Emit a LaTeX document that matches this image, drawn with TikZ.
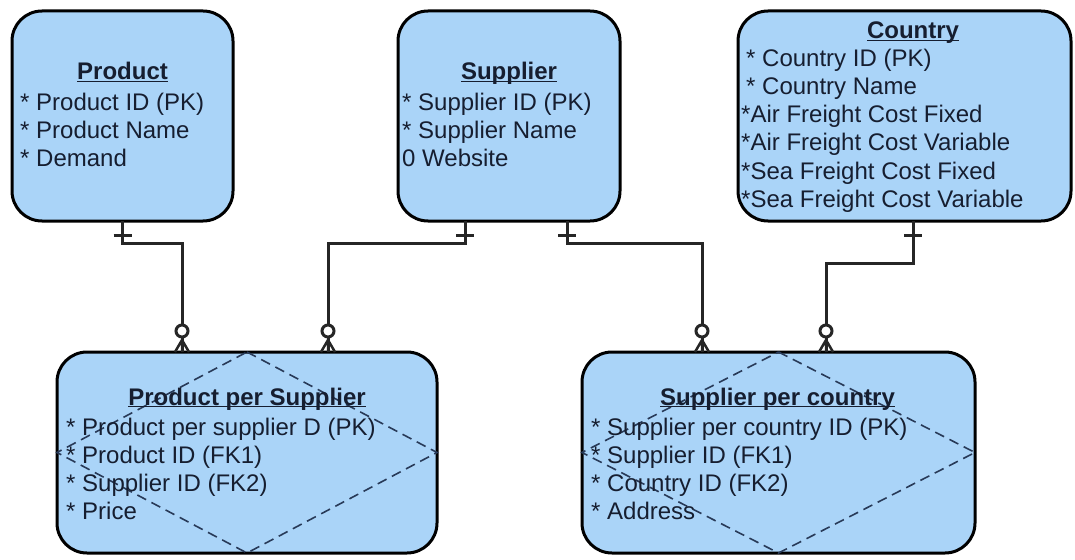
\documentclass[tikz,border=0pt]{standalone}
\usepackage{fontspec}
\setmainfont{Liberation Sans}
\usetikzlibrary{calc}

\definecolor{entfill}{RGB}{170,212,248}
\definecolor{enttext}{RGB}{22,30,48}
\definecolor{rhomb}{RGB}{40,58,88}

\tikzset{
        % entity boxes and their texts
        entity/.style={draw=black, line width=3pt, fill=entfill, rounded corners=30pt, inner sep=0pt, outer sep=0pt},
        enttitle/.style={font=\fontsize{24}{28.3}\selectfont\bfseries, text=enttext, anchor=base, inner sep=0pt},
        % base of a list node = baseline of its last line
        entattr/.style={font=\fontsize{24}{28.3}\selectfont, text=enttext, align=left, anchor=base west, inner sep=0pt},
        % relations
        conn/.style={line width=3pt, draw=black!85},
        rhombline/.style={draw=rhomb, line width=1.6pt, dash pattern=on 10pt off 6pt},
}

% underlined title, line right under the baseline
\newcommand{\enthead}[1]{\underline{\smash{#1}}}
% "one" bar near the parent
\newcommand{\markone}[1]{\draw[conn] ([shift={(-9,14)}]#1) -- ([shift={(9,14)}]#1);}
% "zero or many" at the child
\newcommand{\markmany}[1]{%
  \draw[conn, line width=2.5pt] ([shift={(-7,0)}]#1) -- ([shift={(0,-12)}]#1) -- ([shift={(7,0)}]#1) ([shift={(0,-12)}]#1) -- (#1);
  \draw[conn, fill=white] ([shift={(0,-21)}]#1) circle (6);}

\begin{document}
\begin{tikzpicture}[x=1pt,y=1pt,yscale=-1]
\path[fill=white, use as bounding box] (0,0) rectangle (1075,559);

%Shape: entities
\node[entity, minimum width=221pt, minimum height=210pt] (prod) at (122.5,116) {};
\node[entity, minimum width=222pt, minimum height=210pt] (supp) at (509,116) {};
\node[entity, minimum width=333pt, minimum height=210pt] (ctry) at (904.5,116) {};
\node[entity, minimum width=380pt, minimum height=201pt] (pps) at (247,452.5) {};
\node[entity, minimum width=393pt, minimum height=201pt] (spc) at (778.5,452.5) {};

%Shape: dashed rhombs of the link tables
\draw[rhombline] (pps.north) -- (pps.east) -- (pps.south) -- (pps.west) -- cycle;
\draw[rhombline] (spc.north) -- (spc.east) -- (spc.south) -- (spc.west) -- cycle;

% Text Node
\node[enttitle] (prodT) at (122.5,80) {\enthead{Product}};
\node[entattr] (prodA) at (20,166.6) {* Product ID (PK)\\* Product Name\\* Demand};
% Text Node
\node[enttitle] (suppT) at (509,80) {\enthead{Supplier}};
\node[entattr] (suppA) at (402,166.6) {* Supplier ID (PK)\\* Supplier Name\\0 Website};
% Text Node
\node[enttitle] (ctryT) at (913,39) {\enthead{Country}};
\node[entattr] (ctryA) at (741,207.5) {\hspace*{5pt}* Country ID (PK)\\\hspace*{5pt}* Country Name\\*Air Freight Cost Fixed\\*Air Freight Cost Variable\\*Sea Freight Cost Fixed\\*Sea Freight Cost Variable};
% Text Node
\node[enttitle] (ppsT) at (247,405) {\enthead{Product per Supplier}};
\node[entattr] (ppsA) at (66,519.9) {* Product per supplier D (PK)\\* Product ID (FK1)\\* Supplier ID (FK2)\\* Price};
% Text Node
\node[enttitle] (spcT) at (777.5,405) {\enthead{Supplier per country}};
\node[entattr] (spcA) at (591,519.9) {* Supplier per country ID (PK)\\* Supplier ID (FK1)\\* Country ID (FK2)\\* Address};

%Straight Lines: connector ends
\coordinate (s1) at (prod.south);
\coordinate (t1) at ([xshift=-65pt]pps.north);
\coordinate (s2) at ([xshift=-44pt]supp.south);
\coordinate (t2) at ([xshift=81pt]pps.north);
\coordinate (s3) at ([xshift=58pt]supp.south);
\coordinate (t3) at ([xshift=-76.5pt]spc.north);
\coordinate (s4) at ([xshift=8.5pt]ctry.south);
\coordinate (t4) at ([xshift=47.5pt]spc.north);

%Straight Lines
\draw[conn] (s1) -- ++(0,22) -| (t1);
\draw[conn] (s2) -- ++(0,22) -| (t2);
\draw[conn] (s3) -- ++(0,22) -| (t3);
\draw[conn] (s4) -- ++(0,42) -| (t4);

\markone{s1} \markone{s2} \markone{s3} \markone{s4}
\markmany{t1} \markmany{t2} \markmany{t3} \markmany{t4}

\end{tikzpicture}
\end{document}
